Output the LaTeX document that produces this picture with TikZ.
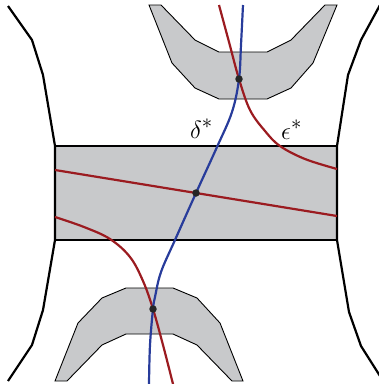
\documentclass[tikz,border=0pt]{standalone}
\usetikzlibrary{calc}
\definecolor{shapegray}{RGB}{200,201,203}
\definecolor{curvered}{RGB}{155,27,32}
\definecolor{curveblue}{RGB}{40,60,155}
\tikzset{
  region/.style={fill=shapegray, draw=black, line width=0.9pt, line join=miter},
  outline/.style={draw=black, line width=2.2pt, line join=miter},
  redcurve/.style={draw=curvered, line width=2.2pt},
  bluecurve/.style={draw=curveblue, line width=2.2pt},
  dotmark/.style={circle, fill=black!85, inner sep=0pt, minimum size=7.5pt},
  lbl/.style={inner sep=0pt, anchor=base west, font=\fontsize{28}{32}\selectfont}
}
\begin{document}
\begin{tikzpicture}[x=1pt,y=-1pt]
\useasboundingbox (0,0) rectangle (379,384);
\clip (0,0) rectangle (379,384);
% central band
\draw[region, line width=1.2pt] (55,146) rectangle (337,240);
% top U-shaped region
\draw[region] (149,5) -- (161,5) -- (195,40) -- (219,52) -- (267,52) -- (291,40) -- (325,5) -- (337,5)
  -- (313,63) -- (291,88) -- (267,99) -- (219,99) -- (195,88) -- (172,63) -- cycle;
% bottom arch region
\draw[region] (55,381) -- (78,323) -- (102,298) -- (126,288) -- (173,288) -- (197,298) -- (220,323) -- (243,381)
  -- (232,381) -- (197,345) -- (173,334) -- (126,334) -- (102,345) -- (67,381) -- cycle;
% outer boundary
\draw[outline] (8,6) -- (32,40) -- (43,75) -- (55,146) -- (55,240) -- (43,310) -- (32,345) -- (8,381);
\draw[outline] (380,5) -- (361,40) -- (348,75) -- (337,146) -- (337,240) -- (349,312) -- (361,346) -- (380,376);
% named points
\coordinate (pt) at (239,79);
\coordinate (pm) at (196,193);
\coordinate (pb) at (153,309);
% red curves
\draw[redcurve] (55,170) -- (pm) -- (337,216);
\draw[redcurve] plot[smooth, tension=0.6] coordinates {(219,5) (229,42) (239,79) (250,110) (265,131) (280,146) (305,159) (337,169)};
\draw[redcurve] plot[smooth, tension=0.6] coordinates {(55,217) (84,227) (110,239) (130,257) (143,281) (153,309) (163,345) (173,384)};
% blue curve
\draw[bluecurve] plot[smooth, tension=0.6] coordinates {(243,5) (241,45) (239,79) (232,112) (217,147) (196,193) (175,240) (161,272) (155,297) (153,309) (150,345) (149,384)};
% intersection dots
\node[dotmark] (dt) at (pt) {};
\node[dotmark] (dm) at (pm) {};
\node[dotmark] (db) at (pb) {};
% labels
\node[lbl] (delta) at (190,138) {$\delta^*$};
\node[lbl] (eps) at (281,139) {$\epsilon^*$};
\end{tikzpicture}
\end{document}
